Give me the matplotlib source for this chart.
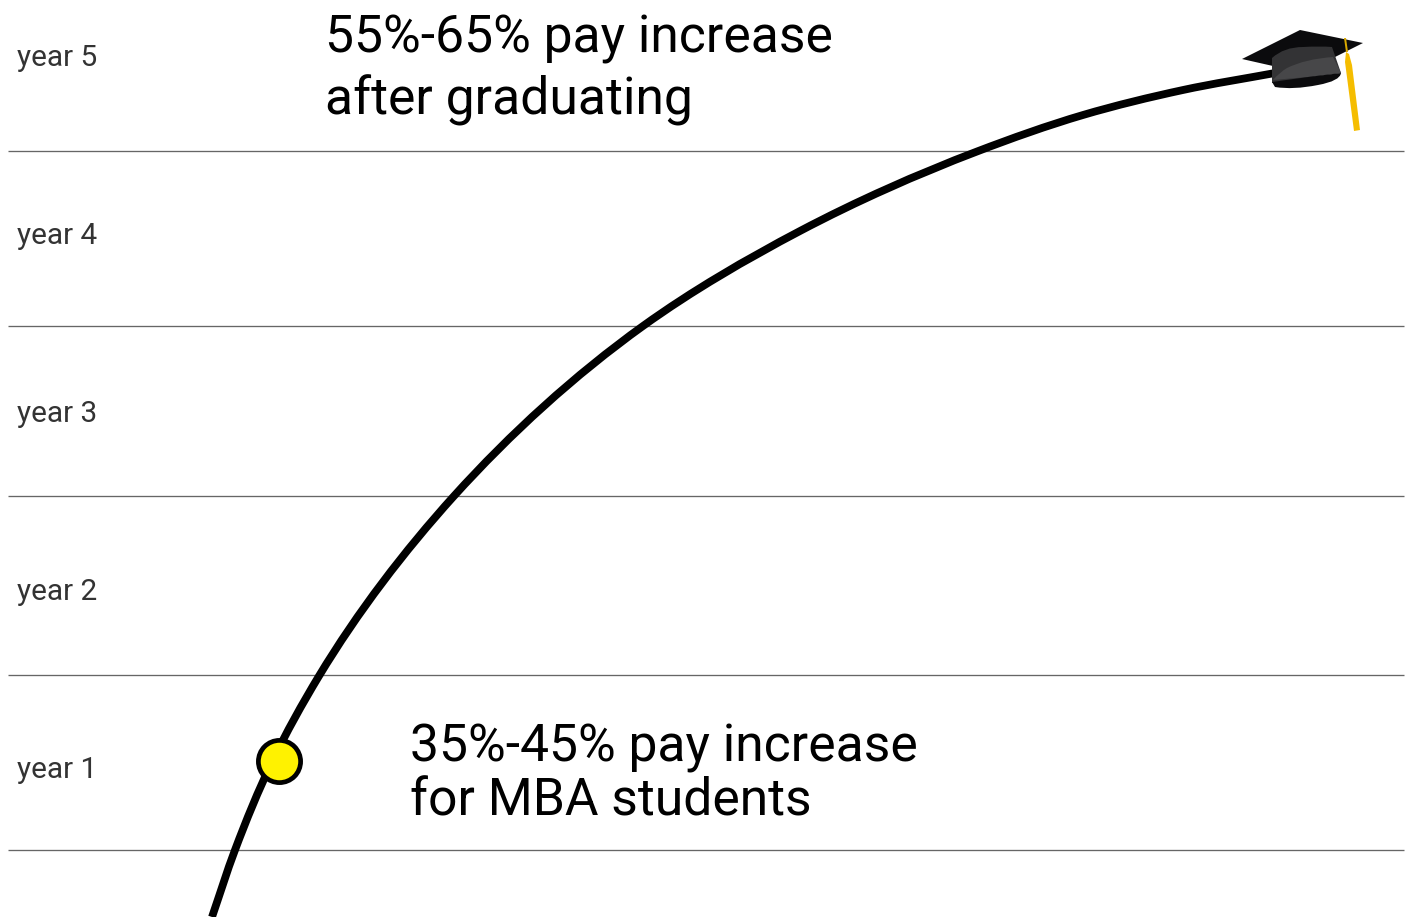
import math
import matplotlib
matplotlib.use("Agg")
import matplotlib.pyplot as plt
from matplotlib.path import Path
from matplotlib.patches import PathPatch, Polygon

plt.rcParams['font.family'] = ['Roboto', 'DejaVu Sans']

# Axes run in a canvas-like scale: x to the right, y downward
year_labels = ["year 5", "year 4", "year 3", "year 2", "year 1"]
year_label_y = [66, 244, 422, 600, 778]
divider_y = [151, 326, 496, 675, 850]

curve_x = [212, 235, 272, 319, 454, 643, 800, 977, 1083, 1183, 1275]
curve_y = [917, 850, 762, 676, 496, 326, 231, 151.5, 115, 90, 73]

marker_x = [279]
marker_y = [761]

note_lines = ["55%-65% pay increase", "after graduating",
              "35%-45% pay increase", "for MBA students"]
note_x = [325, 325, 410, 410]
note_y = [53, 114, 761.5, 815.5]

# Mortarboard parts: outline vertices with their path codes
M, L, Q, Z = Path.MOVETO, Path.LINETO, Path.CURVE3, Path.CLOSEPOLY
board = [(1242, 59), (1300, 30), (1363, 43), (1335, 57), (1273, 66)]
band = [(1272, 58), (1284, 47), (1303, 47), (1320, 46), (1332, 47), (1341, 73), (1272, 83), (1272, 58)]
band_codes = [M, Q, Q, Q, Q, L, L, Z]
light = [(1273, 80), (1280, 72), (1287, 68), (1305, 59), (1333, 57), (1341, 73), (1308, 77), (1273, 80)]
light_codes = [M, Q, Q, Q, Q, L, L, Z]
base = [(1272, 82), (1308, 77), (1341, 73), (1340, 81), (1318, 85), (1293, 90), (1275, 87), (1272, 82)]
base_codes = [M, L, L, Q, Q, Q, Q, Z]
cord = [(1344, 38), (1346, 38), (1348, 52), (1346, 52)]
tassel = [(1346, 52), (1349, 54), (1352, 65), (1360, 130), (1354, 131), (1345, 62)]


def smooth_path(xs, ys):
    """Cubic Bezier through the points, with tangents weighted by neighbouring segment lengths."""
    pts = list(zip(xs, ys))
    n = len(pts)
    seg = [math.hypot(pts[i + 1][0] - pts[i][0], pts[i + 1][1] - pts[i][1]) for i in range(n - 1)]
    unit = [((pts[i + 1][0] - pts[i][0]) / seg[i], (pts[i + 1][1] - pts[i][1]) / seg[i]) for i in range(n - 1)]
    tangents = [unit[0]]
    for i in range(1, n - 1):
        a, b = seg[i - 1], seg[i]
        tangents.append(((unit[i - 1][0] * b + unit[i][0] * a) / (a + b),
                         (unit[i - 1][1] * b + unit[i][1] * a) / (a + b)))
    tangents.append(unit[-1])
    verts = [pts[0]]
    codes = [Path.MOVETO]
    for i in range(n - 1):
        p, q = pts[i], pts[i + 1]
        h = seg[i] / 3
        verts += [(p[0] + tangents[i][0] * h, p[1] + tangents[i][1] * h),
                  (q[0] - tangents[i + 1][0] * h, q[1] - tangents[i + 1][1] * h), q]
        codes += [Path.CURVE4] * 3
    return Path(verts, codes)


fig = plt.figure(figsize=(14.08, 9.17), dpi=100, facecolor="white")
ax = fig.add_axes([0, 0, 1, 1])
ax.set_xlim(0, 1408)
ax.set_ylim(917, 0)
ax.axis("off")

for y in divider_y:
    ax.plot([8, 1404], [y, y], color="#666666", lw=0.95, solid_capstyle="butt", zorder=1)

for label, y in zip(year_labels, year_label_y):
    ax.text(17, y, label, fontsize=21.4, color="#333333", va="baseline", ha="left")

ax.add_patch(PathPatch(smooth_path(curve_x, curve_y), fill=False, edgecolor="black", lw=5.6,
                       capstyle="butt", zorder=2))

ax.plot(marker_x, marker_y, "o", ms=30.4, mfc="#fff200", mec="black", mew=3.4, zorder=3)

for text, x, y in zip(note_lines, note_x, note_y):
    ax.text(x, y, text, fontsize=37.2, color="black", va="baseline", ha="left")

ax.add_patch(Polygon(board, closed=True, fc="#0b0b0d", ec="none", zorder=4))
ax.add_patch(PathPatch(Path(band, band_codes), fc="#333335", ec="none", zorder=5))
ax.add_patch(PathPatch(Path(light, light_codes), fc="#474749", ec="none", zorder=6))
ax.add_patch(PathPatch(Path(base, base_codes), fc="#0b0b0d", ec="none", zorder=7))
ax.add_patch(Polygon(cord, closed=True, fc="#d9a900", ec="none", zorder=8))
ax.add_patch(Polygon(tassel, closed=True, fc="#f5bd00", ec="none", zorder=8))

fig.savefig("out.png", dpi=100)
